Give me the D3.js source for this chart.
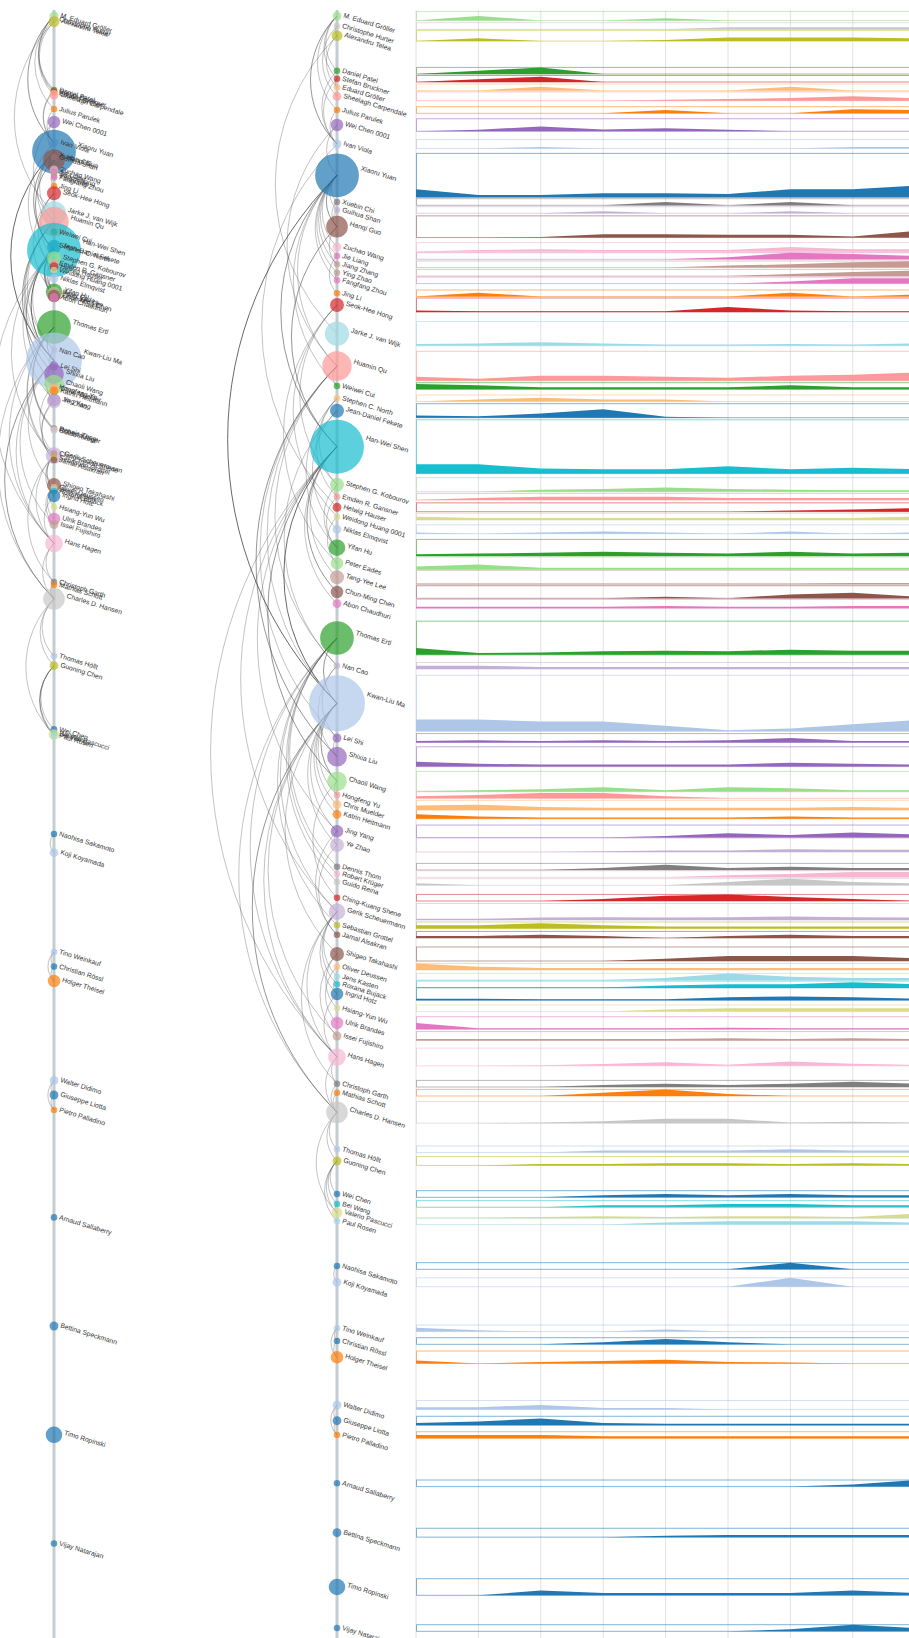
<!DOCTYPE html>
<html>
<head>
<meta charset="utf-8">
<script src="https://cdn.jsdelivr.net/npm/d3@7"></script>
<style>
  body { margin: 0; overflow: hidden; background: #fff; }
  text { font-family: "Liberation Sans", Arial, sans-serif; }
</style>
</head>
<body>
<div id="chart"></div>
<script>
// authors, top to bottom
var names = ["M. Eduard Gröller","Christophe Hurter","Alexandru Telea","Daniel Patel","Stefan Bruckner","Eduard Gröller","Sheelagh Carpendale","Julius Parulek","Wei Chen 0001","Ivan Viola",
  "Xiaoru Yuan","Xuebin Chi","Guihua Shan","Hanqi Guo","Zuchao Wang","Jie Liang","Jiang Zhang","Ying Zhao","Fangfang Zhou","Jing Li",
  "Seok-Hee Hong","Jarke J. van Wijk","Huamin Qu","Weiwei Cui","Stephen C. North","Jean-Daniel Fekete","Han-Wei Shen","Stephen G. Kobourov","Emden R. Gansner","Helwig Hauser",
  "Weidong Huang 0001","Niklas Elmqvist","Yifan Hu","Peter Eades","Tang-Yee Lee","Chun-Ming Chen","Abon Chaudhuri","Thomas Ertl","Nan Cao","Kwan-Liu Ma",
  "Lei Shi","Shixia Liu","Chaoli Wang","Hongfeng Yu","Chris Muelder","Katrin Heitmann","Jing Yang","Ye Zhao","Dennis Thom","Robert Krüger",
  "Guido Reina","Ching-Kuang Shene","Gerik Scheuermann","Sebastian Grottel","Jamal Alsakran","Shigeo Takahashi","Oliver Deussen","Jens Kasten","Roxana Bujack","Ingrid Hotz",
  "Hsiang-Yun Wu","Ulrik Brandes","Issei Fujishiro","Hans Hagen","Christoph Garth","Mathias Schott","Charles D. Hansen","Thomas Höllt","Guoning Chen","Wei Chen",
  "Bei Wang","Valerio Pascucci","Paul Rosen","Naohisa Sakamoto","Koji Koyamada","Tino Weinkauf","Christian Rössl","Holger Theisel","Walter Didimo","Giuseppe Liotta",
  "Pietro Palladino","Arnaud Sallaberry","Bettina Speckmann","Timo Ropinski","Vijay Natarajan"];

var colors = ["#98df8a","#c7c7c7","#bcbd22","#2ca02c","#d62728","#ffbb78","#ff9896","#ff7f0e","#9467bd","#aec7e8",
  "#1f77b4","#7f7f7f","#c5b0d5","#8c564b","#f7b6d2","#e377c2","#c49c94","#c49c94","#e377c2","#ff7f0e",
  "#d62728","#9edae5","#ff9896","#2ca02c","#ffbb78","#1f77b4","#17becf","#98df8a","#ff9896","#d62728",
  "#dbdb8d","#aec7e8","#2ca02c","#98df8a","#c49c94","#8c564b","#e377c2","#2ca02c","#c5b0d5","#aec7e8",
  "#9467bd","#9467bd","#98df8a","#ff9896","#ffbb78","#ff7f0e","#9467bd","#c5b0d5","#7f7f7f","#f7b6d2",
  "#c7c7c7","#d62728","#c5b0d5","#bcbd22","#8c564b","#8c564b","#ffbb78","#9edae5","#17becf","#1f77b4",
  "#dbdb8d","#e377c2","#c49c94","#f7b6d2","#7f7f7f","#ff7f0e","#c7c7c7","#aec7e8","#bcbd22","#1f77b4",
  "#17becf","#dbdb8d","#9edae5","#1f77b4","#aec7e8","#aec7e8","#1f77b4","#ff7f0e","#aec7e8","#1f77b4",
  "#ff7f0e","#1f77b4","#1f77b4","#1f77b4","#1f77b4"];

// total papers (circle area)
var papers = [2,1,3,1,1,1,2,1,4,2, 49,1,1,12,2,1,1,1,1,1, 5,15,22,1,1,5,74,5,1,2,
  1,2,7,4,5,4,2,29,1,80, 2,10,10,1,2,2,4,5,1,1, 1,1,7,1,1,5,1,1,1,4,
  1,4,2,8,1,1,12,1,2,1, 1,3,1,1,2,1,1,4,2,2, 1,1,2,7,1];

// layout positions on the detailed axis and on the compact axis
var rightPos = [16,26,35.7,70.7,78.7,87.3,96.3,110,125,144, 175.3,202,210,226.7,247,256,264.3,272.7,280.3,293.3,
  305,333.7,366,386,398.3,410.7,446.7,484.7,496.7,507.3, 516.7,529.3,547.7,563.3,577.3,592,603.7,638,665.7,703.3,
  738,756.7,781.3,795,804.7,814.3,831.3,845,866.7,874, 882,897.7,911.7,925.3,934.7,954,966.7,976.7,984.3,994,
  1008.3,1023,1036,1057,1083.7,1092.7,1112.3,1149.3,1161,1194, 1204,1212.7,1221.3,1266,1282.3,1328.3,1341,1357.3,1405,1420.7,
  1435,1483.3,1532.7,1587,1628];
var leftPos = [16,19,21.7,90,91.5,93,95,109,122,142.7, 151.7,155,157,160,170,172,174,176,177.5,186,
  193.3,213.3,221.7,231.7,245,246.7,250,258.3,263,266.7, 270,278.3,291.7,293,295,296,297.5,327,350,360.5,
  366,374,384.6,386.7,388.7,391,400,401.3,428.5,429.5, 430.5,453.5,455.6,457.7,460,485,487,489,491,496,
  507,519,524.6,543.4,582,585,598.8,656,665.7,729.4, 733.6,734.6,735.7,834,852.7,952,966.6,981,1080.5,1095,
  1110,1217.4,1326,1434.8,1543.5];

var years = [2006,2007,2008,2009,2010,2011,2012,2013,2014];

// papers per year for each author
var counts = [
  [0,1,0,0,0.5,0,0,0,0],[0,0,0,0,0,0.3,0.3,0.3,0.3],[0,0.8,0,0,0.3,1,1,1,0.8],[0,0.5,1,0,0,0,0,0,0],[0,0.4,0.8,0,0,0,0,0,0],
  [0,0,0.6,0,0,0,0.6,0,0],[0,0,0,0,0.2,0.4,0.6,1,0.6],[0,0,0,0,0.5,0,0,0.6,0.5],[0,0.5,1.5,0.6,1,0.5,0,0,0],[0,0,0.3,0,0,0,0,0.3,0.3],
  [9,2.5,2.5,4.5,4.5,3.5,9,9,13],[0,0,0,0,0.5,0,0.5,0,0],[0,0,0,0.3,0,0,0.3,0,0],[0,0,0.3,1.8,1.8,1.5,1.5,0.6,3.6],[0,0.3,0.5,0.3,0.3,0.3,1,0.5,0.5],
  [0,0,0,0,0,0.3,1,0.8,0.5],[0,0,0,0,0,0.3,0.5,0.8,1],[0,0,0,0,0,0,0.3,0.6,0.8],[0,0,0,0,0,0,0.3,0.8,0.8],[0,0.6,0,0,0,0,0.6,0,0.3],
  [0.5,0.3,0.3,0.3,0.3,1.8,0.5,0.3,0.3],[1.2,1.5,2.2,1.5,0.8,0.8,1.2,0.8,1.5],[3,1.5,3.7,3.7,3,2.2,3.7,4.5,6],[0.8,0.6,0.3,0.3,0.3,0.3,0.6,0.3,0.3],[0,0.3,0.6,0.3,0.3,0,0,0,0],
  [0.8,0.5,1.5,3,0.3,0,0,0,0],[13,13,7,6,6,10,6,8,6],[0,0,0.7,1,1.5,1,0.7,0.5,0.5],[0,0.3,0.5,0.5,0.5,0.3,0.3,0.3,0.3],[0,0,0,0,0,0,0.3,0.5,0.8],
  [0.5,0.3,0.3,0.3,0.3,0.3,0.3,0.3,0.5],[0.3,0,0.3,0.5,0.3,0,0.5,0,0.3],[0.7,1,1.4,1.8,1.4,1,1.8,1,1.4],[1,1.6,0.6,0.6,0.6,0.6,0.6,0.6,0.6],[0.3,0.3,0.3,0.3,0.3,0.3,0.3,0.5,0.5],
  [0,0,0,0,0.5,0,1.2,1.8,0.5],[0.3,0.3,0.3,0.3,0.5,0.3,0.3,0.5,0.5],[6,1.5,2,3,3.5,3,4.5,3.5,3.5],[0.5,0.5,0.3,0.3,0.3,0.3,0.3,0.3,0.3],[17,17,14,14,8,1.5,4,10,16],
  [0.3,0.5,0.3,0.5,0.3,0.5,1,0.3,0.3],[2.5,1.5,1,1,1,1,2,1.5,1],[0,0.5,1,2,0.5,2,1.5,0.5,0.5],[0.3,0.5,0.8,0.8,0.3,0,0,0,0],[0.8,1,0.5,0.3,0.3,0.3,0.3,0.5,0.3],
  [1,0.5,0.3,0.3,0.3,0.3,0.5,0.3,0.3],[0,0,0,0,0.5,1.4,0.8,1.6,1],[0,0,0,0.3,0.5,0.5,1,0.8,0.8],[0,0,0,0.3,0.8,0.3,0.5,0.3,0.3],[0,0,0,0,0,0.3,0.5,0.8,0.8],
  [0.3,0,0,0,0,0.5,1,0.5,0.3],[0,0,0,0.3,0.8,1,0.6,0.3,0],[0.5,0.5,1,1.2,1,1.2,1.5,1.2,1],[0.5,0.5,0.8,0.5,0.3,0.3,0.3,0.3,0.3],[0.3,0.3,0.5,0.3,0,0.3,0.5,0.3,0.3],
  [0,0,0,0,0.8,1.8,1.8,1.8,1],[1,0.5,0.3,0.3,0.3,0.3,0.3,0.3,0.3],[0,0,0,0,0.3,1,0.5,0.3,0.3],[0,0,0,0,0.3,0.5,0.5,0.8,0.5],[0.5,0.5,0.3,0.3,0.3,1,1.2,1,0.5],
  [0,0,0,0,0.3,0.5,0.5,0.5,0.5],[2,0.3,0.3,0.3,0.3,0.5,0.3,0.3,0.3],[0.3,0.3,0.3,0.3,0.3,0.5,0.3,0.5,0.3],[0,0,0.3,0.8,1.6,0.5,2,1,0.5],[0,0,0,0.3,0.5,0.3,0.5,0.8,0.5],
  [0,0,0,0.5,1,0.3,0,0,0],[0,0,0.3,1,2.5,2.5,0.3,0.8,0.3],[0,0,0,0.3,0.3,0.3,0.5,0.3,0.3],[0,0,0.3,0.3,0.5,0.5,0.3,0.5,0.3],[0,0,0,0.3,0.5,0.3,0.5,0.3,0.3],
  [0,0,0,0.3,0.3,0.5,0.5,0.3,0.3],[0,0,0.3,0.5,0.3,0.5,0.5,0.3,1.2],[0,0,0,0,0.3,0.5,0.5,0.5,0.3],[0,0,0,0,0,0,1,0,0],[0,0,0,0,0,0,2,0,0],
  [0.6,0.2,0,0,0.3,0,0,0,0],[0,0,0,0.3,0.8,0.3,0,0,0],[1,0,0.5,0.8,1.2,0.5,0.3,0,0],[0.5,0.5,1,0.3,0.3,0,0,0,0],[0.5,0.8,1.5,0.5,0.3,0.3,0.3,0.3,0.3],
  [0.5,0.5,0.5,0.3,0.3,0.3,0.3,0.3,0.3],[0,0,0,0,0,0,0,0.3,1],[0,0,0,0,0.3,0.5,0.5,0.5,0.5],[0,0,2,1,1,1,1,2,1],[0,0,0,0,0,0,0.3,1,0.5]
];

// co-authorship: [a, b, weight]
var links = [
  ["M. Eduard Gröller","Ivan Viola",2],["M. Eduard Gröller","Stefan Bruckner",1],["M. Eduard Gröller","Daniel Patel",1],
  ["M. Eduard Gröller","Julius Parulek",1],["Christophe Hurter","Alexandru Telea",1],
  ["Christophe Hurter","Sheelagh Carpendale",1],["Alexandru Telea","Jarke J. van Wijk",1],["Alexandru Telea","Eduard Gröller",1],
  ["Ivan Viola","Stefan Bruckner",1],["Ivan Viola","Daniel Patel",1],["Ivan Viola","Julius Parulek",1],["Ivan Viola","Helwig Hauser",1],
  ["Eduard Gröller","Stefan Bruckner",1],["Wei Chen 0001","Huamin Qu",1],["Wei Chen 0001","Xiaoru Yuan",1],
  ["Xiaoru Yuan","Xuebin Chi",1],["Xiaoru Yuan","Guihua Shan",1],["Xiaoru Yuan","Hanqi Guo",2],["Xiaoru Yuan","Zuchao Wang",1],
  ["Xiaoru Yuan","Jie Liang",1],["Xiaoru Yuan","Jiang Zhang",1],["Xiaoru Yuan","Ying Zhao",1],["Xiaoru Yuan","Fangfang Zhou",1],
  ["Xiaoru Yuan","Han-Wei Shen",2],["Xiaoru Yuan","Huamin Qu",1],["Xiaoru Yuan","Kwan-Liu Ma",3],["Xiaoru Yuan","Weiwei Cui",1],
  ["Hanqi Guo","Xuebin Chi",1],["Hanqi Guo","Guihua Shan",1],["Hanqi Guo","Jiang Zhang",1],["Hanqi Guo","Han-Wei Shen",2],
  ["Ying Zhao","Fangfang Zhou",1],["Jie Liang","Jing Li",1],["Seok-Hee Hong","Peter Eades",1],["Seok-Hee Hong","Weidong Huang 0001",1],
  ["Seok-Hee Hong","Stephen G. Kobourov",1],["Huamin Qu","Weiwei Cui",1],["Huamin Qu","Nan Cao",1],["Huamin Qu","Shixia Liu",2],
  ["Huamin Qu","Kwan-Liu Ma",1],["Huamin Qu","Lei Shi",1],["Stephen C. North","Emden R. Gansner",1],["Stephen C. North","Yifan Hu",1],
  ["Stephen C. North","Stephen G. Kobourov",1],["Jean-Daniel Fekete","Niklas Elmqvist",1],["Jean-Daniel Fekete","Nan Cao",1],
  ["Han-Wei Shen","Chun-Ming Chen",2],["Han-Wei Shen","Abon Chaudhuri",1],["Han-Wei Shen","Tang-Yee Lee",1],["Han-Wei Shen","Kwan-Liu Ma",3],
  ["Han-Wei Shen","Chaoli Wang",2],["Han-Wei Shen","Jing Yang",1],["Han-Wei Shen","Gerik Scheuermann",1],["Han-Wei Shen","Hans Hagen",1],
  ["Stephen G. Kobourov","Emden R. Gansner",1],["Stephen G. Kobourov","Yifan Hu",1],["Emden R. Gansner","Yifan Hu",1],
  ["Weidong Huang 0001","Peter Eades",1],["Thomas Ertl","Dennis Thom",1],["Thomas Ertl","Robert Krüger",1],["Thomas Ertl","Guido Reina",1],
  ["Thomas Ertl","Sebastian Grottel",1],["Thomas Ertl","Gerik Scheuermann",1],["Thomas Ertl","Hans Hagen",1],["Thomas Ertl","Kwan-Liu Ma",2],
  ["Thomas Ertl","Charles D. Hansen",1],["Nan Cao","Shixia Liu",1],["Nan Cao","Lei Shi",1],["Kwan-Liu Ma","Chaoli Wang",2],
  ["Kwan-Liu Ma","Hongfeng Yu",1],["Kwan-Liu Ma","Chris Muelder",1],["Kwan-Liu Ma","Katrin Heitmann",1],["Kwan-Liu Ma","Ye Zhao",1],
  ["Kwan-Liu Ma","Jing Yang",1],["Kwan-Liu Ma","Shigeo Takahashi",1],["Kwan-Liu Ma","Hans Hagen",1],["Kwan-Liu Ma","Charles D. Hansen",2],
  ["Kwan-Liu Ma","Issei Fujishiro",1],["Shixia Liu","Lei Shi",1],["Chaoli Wang","Ching-Kuang Shene",1],["Chaoli Wang","Hongfeng Yu",1],
  ["Jing Yang","Ye Zhao",1],["Jing Yang","Jamal Alsakran",1],["Ye Zhao","Jamal Alsakran",1],["Gerik Scheuermann","Hans Hagen",1],
  ["Gerik Scheuermann","Christoph Garth",1],["Gerik Scheuermann","Jens Kasten",1],["Gerik Scheuermann","Roxana Bujack",1],
  ["Gerik Scheuermann","Ingrid Hotz",1],["Shigeo Takahashi","Issei Fujishiro",1],["Shigeo Takahashi","Hsiang-Yun Wu",1],
  ["Oliver Deussen","Ulrik Brandes",1],["Ingrid Hotz","Jens Kasten",1],["Ingrid Hotz","Hans Hagen",1],["Hans Hagen","Christoph Garth",1],
  ["Hans Hagen","Charles D. Hansen",1],["Christoph Garth","Charles D. Hansen",1],["Mathias Schott","Charles D. Hansen",1],
  ["Charles D. Hansen","Thomas Höllt",1],["Charles D. Hansen","Guoning Chen",1],["Charles D. Hansen","Valerio Pascucci",1],
  ["Guoning Chen","Wei Chen",1],["Guoning Chen","Bei Wang",1],["Guoning Chen","Valerio Pascucci",1],["Guoning Chen","Paul Rosen",1],
  ["Bei Wang","Valerio Pascucci",1],["Naohisa Sakamoto","Koji Koyamada",1],["Tino Weinkauf","Christian Rössl",1],
  ["Tino Weinkauf","Holger Theisel",1],["Christian Rössl","Holger Theisel",1],["Walter Didimo","Giuseppe Liotta",1],
  ["Walter Didimo","Pietro Palladino",1],["Giuseppe Liotta","Pietro Palladino",1]
];

var width = 1100, height = 1638;
var leftX = 54, rightX = 337, boxX = 416, boxEnd = 1100;

var svg = d3.select('#chart').append('svg')
    .attr('width', width)
    .attr('height', height);

var y = d3.scaleLinear().domain([0, height]).range([0, height]);
var r = d3.scaleSqrt().domain([0, 80]).range([0, 28]);
var x = d3.scaleLinear().domain([2006, 2014]).range([boxX, 915.2]);
var linkAlpha = d3.scaleLinear().domain([1, 3]).range([0.32, 0.8]);

var index = {};
names.forEach(function(n, i) { index[n] = i; });

var nodes = names.map(function(n, i) {
    return {
        name: n, color: colors[i], r: Math.max(3.3, r(papers[i])),
        papers: papers[i], ly: y(leftPos[i]), ry: y(rightPos[i]), values: counts[i]
    };
});

function arcPath(cx, y1, y2) {
    var a = Math.min(y1, y2), b = Math.max(y1, y2);
    var rr = (b - a) / Math.SQRT2;
    return 'M' + cx + ',' + a + 'A' + rr + ',' + rr + ' 0 0,0 ' + cx + ',' + b;
}

// year grid
svg.append('g').selectAll('line')
    .data(d3.range(2006, 2016))
    .enter().append('line')
    .attr('x1', function(d) { return x(d); })
    .attr('x2', function(d) { return x(d); })
    .attr('y1', 10).attr('y2', height)
    .style('stroke', '#e2e2e2')
    .style('stroke-width', 1);

// per-author yearly boxes
var rows = svg.append('g').selectAll('g')
    .data(nodes)
    .enter().append('g');

rows.append('rect')
    .attr('x', boxX + 0.5)
    .attr('y', function(d) { return d.ry - d.r; })
    .attr('width', boxEnd - boxX)
    .attr('height', function(d) { return d.r * 2; })
    .style('fill', 'none')
    .style('stroke', function(d) { return d.color; })
    .style('stroke-opacity', 0.55)
    .style('stroke-width', 1);

rows.append('path')
    .attr('d', function(d) {
        var h = d3.scaleLinear().domain([0, d.papers]).range([d.ry + d.r, d.ry - d.r]);
        return d3.area()
            .x(function(v, i) { return x(years[i]); })
            .y0(d.ry + d.r)
            .y1(function(v) { return h(v); })(d.values);
    })
    .style('fill', function(d) { return d.color; });

// two axes
[leftX, rightX].forEach(function(ax) {
    svg.append('line')
        .attr('x1', ax).attr('x2', ax)
        .attr('y1', 10).attr('y2', height)
        .style('stroke', '#c3cdd1')
        .style('stroke-width', 3);
});

function drawSide(ax, key) {
    var g = svg.append('g');
    g.selectAll('path')
        .data(links)
        .enter().append('path')
        .attr('d', function(l) { return arcPath(ax, nodes[index[l[0]]][key], nodes[index[l[1]]][key]); })
        .style('fill', 'none')
        .style('stroke', '#444')
        .style('stroke-opacity', function(l) { return linkAlpha(l[2]); })
        .style('stroke-width', 1);

    g.selectAll('circle')
        .data(nodes)
        .enter().append('circle')
        .attr('cx', ax)
        .attr('cy', function(d) { return d[key]; })
        .attr('r', function(d) { return d.r; })
        .style('fill', function(d) { return d.color; })
        .style('fill-opacity', 0.7);

    g.selectAll('text')
        .data(nodes)
        .enter().append('text')
        .attr('transform', function(d) {
            return 'translate(' + (ax + d.r + 1.5) + ',' + (d[key] + 3 - 0.37 * d.r) + ') rotate(17)';
        })
        .style('font-size', '6.8px')
        .style('fill', '#333')
        .text(function(d) { return d.name; });
}

drawSide(leftX, 'ly');
drawSide(rightX, 'ry');
</script>
</body>
</html>
